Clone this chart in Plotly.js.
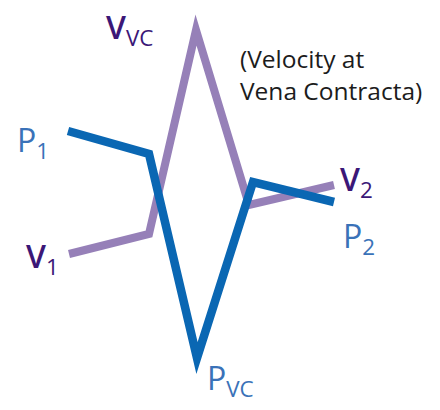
<!DOCTYPE html>
<html>
<head>
<meta charset="utf-8">
<script src="https://cdn.plot.ly/plotly-3.0.1.min.js"></script>
<style>
  html, body { margin: 0; padding: 0; background: #fff; }
  #chart { width: 440px; height: 410px; }
  /* sharp corners like the source drawing */
  #chart path.js-line { stroke-linejoin: miter !important; stroke-miterlimit: 10; }
</style>
</head>
<body>
<div id="chart"></div>
<script>
// Station positions along the pipe (px units)
const velocityX = [69, 149, 196, 249, 334];
const velocityY = [254, 234, 30, 205, 185];

const pressureX = [68, 149, 197, 253, 334];
const pressureY = [131, 154, 358, 182, 202];

// Labels: main letter, subscript, and where they sit
const labelMain = ['V', 'V', 'V', 'P', 'P', 'P'];
const labelSub  = ['VC', '1', '2', '1', '2', 'VC'];
const labelX    = [104, 24, 338, 15, 341, 205];
const labelY    = [3, 232, 155, 116, 212, 354];

const noteText = '(Velocity at<br>Vena Contracta)';
const noteX = 238;
const noteY = 40;

const purple = '#9680b8';
const blue   = '#0a67b3';
const vText  = '#3b1777';
const pText  = '#3a72b8';
const fontFam = '"Open Sans", "Noto Sans", sans-serif';

const velTrace = {
  x: velocityX,
  y: velocityY,
  type: 'scatter',
  mode: 'lines',
  line: { color: purple, width: 8 },
  hoverinfo: 'skip'
};

const presTrace = {
  x: pressureX,
  y: pressureY,
  type: 'scatter',
  mode: 'lines',
  line: { color: blue, width: 8.5 },
  hoverinfo: 'skip'
};

const annotations = labelMain.map((m, i) => {
  const isV = m === 'V';
  const main = isV ? `<span style="font-weight:600">${m}</span>` : m;
  return {
    text: `${main}<sub>${labelSub[i]}</sub>`,
    x: labelX[i],
    y: labelY[i],
    xref: 'x',
    yref: 'y',
    xanchor: 'left',
    yanchor: 'top',
    showarrow: false,
    align: 'left',
    font: { family: fontFam, size: 32, color: isV ? vText : pText }
  };
});

annotations.push({
  text: noteText,
  x: noteX,
  y: noteY,
  xref: 'x',
  yref: 'y',
  xanchor: 'left',
  yanchor: 'top',
  showarrow: false,
  align: 'left',
  font: { family: fontFam, size: 24.5, color: '#1c1c1c' }
});

const layout = {
  width: 440,
  height: 410,
  margin: { l: 0, r: 0, t: 0, b: 0 },
  paper_bgcolor: '#ffffff',
  plot_bgcolor: '#ffffff',
  showlegend: false,
  hovermode: false,
  xaxis: { range: [0, 440], visible: false, fixedrange: true },
  yaxis: { range: [410, 0], visible: false, fixedrange: true },
  annotations: annotations
};

Plotly.newPlot('chart', [velTrace, presTrace], layout, { staticPlot: true, displayModeBar: false });
</script>
</body>
</html>
